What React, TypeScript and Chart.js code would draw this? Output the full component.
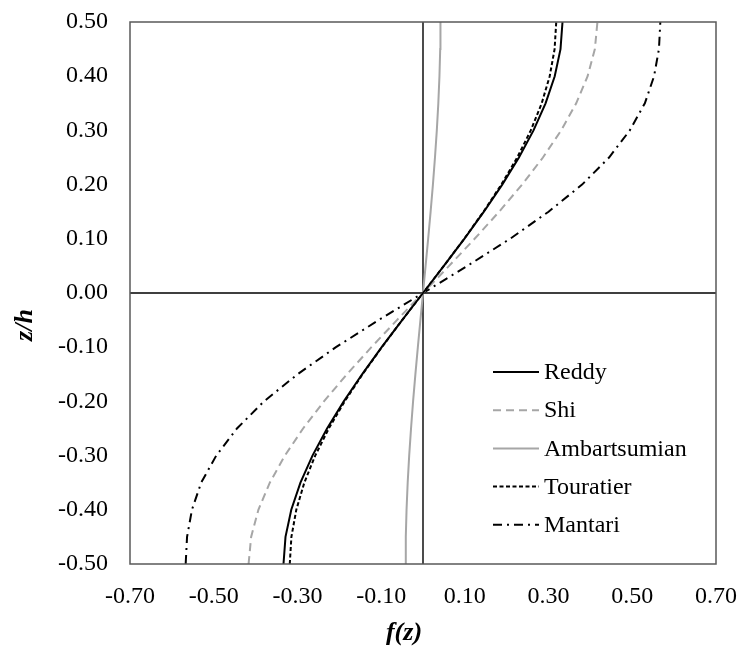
import React, { useEffect, useRef } from "react";
import { Chart, registerables } from "chart.js";

Chart.register(...registerables);

const zValues = [-0.5, -0.45, -0.4, -0.35, -0.3, -0.25, -0.2, -0.15, -0.1, -0.05, 0, 0.05, 0.1, 0.15, 0.2, 0.25, 0.3, 0.35, 0.4, 0.45, 0.5];
const reddy = [-0.3333, -0.3285, -0.3147, -0.2928, -0.264, -0.2292, -0.1893, -0.1455, -0.0987, -0.0498, 0, 0.0498, 0.0987, 0.1455, 0.1893, 0.2292, 0.264, 0.2928, 0.3147, 0.3285, 0.3333];
const shi = [-0.4167, -0.4106, -0.3933, -0.366, -0.33, -0.2865, -0.2367, -0.1819, -0.1233, -0.0623, 0, 0.0623, 0.1233, 0.1819, 0.2367, 0.2865, 0.33, 0.366, 0.3933, 0.4106, 0.4167];
const ambartsumian = [-0.0417, -0.0411, -0.0393, -0.0366, -0.033, -0.0286, -0.0237, -0.0182, -0.0123, -0.0062, 0, 0.0062, 0.0123, 0.0182, 0.0237, 0.0286, 0.033, 0.0366, 0.0393, 0.0411, 0.0417];
const touratier = [-0.3183, -0.3144, -0.3027, -0.2836, -0.2575, -0.2251, -0.1871, -0.1445, -0.0984, -0.0498, 0, 0.0498, 0.0984, 0.1445, 0.1871, 0.2251, 0.2575, 0.2836, 0.3027, 0.3144, 0.3183];
const mantari = [-0.567, -0.5637, -0.552, -0.53, -0.494, -0.4445, -0.38, -0.3, -0.208, -0.106, 0, 0.106, 0.208, 0.3, 0.38, 0.4445, 0.494, 0.53, 0.552, 0.5637, 0.567];

const seriesNames = ["Reddy", "Shi", "Ambartsumian", "Touratier", "Mantari"];
const xTicks = [-0.7, -0.5, -0.3, -0.1, 0.1, 0.3, 0.5, 0.7];
const yTicks = [-0.5, -0.4, -0.3, -0.2, -0.1, 0, 0.1, 0.2, 0.3, 0.4, 0.5];
const xTitle = "f(z)";
const yTitle = "z/h";

const FONT = "'Liberation Serif', 'Times New Roman', serif";

const toPoints = (vals: number[]) => vals.map((v, i) => ({ x: v, y: zValues[i] }));

const framePlugin = {
  id: "frame",
  beforeDatasetsDraw(chart: any) {
    const { ctx, chartArea, scales } = chart;
    const { left, right, top, bottom } = chartArea;
    const x0 = scales.x.getPixelForValue(0);
    const y0 = scales.y.getPixelForValue(0);
    ctx.save();
    ctx.strokeStyle = "#000";
    ctx.lineWidth = 1.4;
    ctx.setLineDash([]);
    ctx.beginPath();
    ctx.moveTo(x0, top);
    ctx.lineTo(x0, bottom);
    ctx.moveTo(left, y0);
    ctx.lineTo(right, y0);
    ctx.stroke();
    ctx.restore();
  },
  afterDatasetsDraw(chart: any) {
    const { ctx, chartArea } = chart;
    const { left, right, top, bottom } = chartArea;
    ctx.save();
    // plot frame
    ctx.strokeStyle = "#595959";
    ctx.lineWidth = 1.5;
    ctx.setLineDash([]);
    ctx.strokeRect(left, top, right - left, bottom - top);

    // legend
    const lx0 = left + 363;
    const lx1 = left + 409;
    const tx = left + 414;
    const ly0 = top + 350;
    const step = 38.2;
    ctx.font = `24px ${FONT}`;
    ctx.textBaseline = "middle";
    ctx.textAlign = "left";
    chart.data.datasets.forEach((ds: any, i: number) => {
      const yy = ly0 + i * step;
      ctx.strokeStyle = ds.borderColor;
      ctx.lineWidth = ds.borderWidth;
      ctx.setLineDash(ds.borderDash || []);
      ctx.beginPath();
      ctx.moveTo(lx0, yy);
      ctx.lineTo(lx1, yy);
      ctx.stroke();
      ctx.setLineDash([]);
      ctx.fillStyle = "#000";
      ctx.fillText(ds.label, tx, yy + 1);
    });

    // axis titles
    ctx.font = `bold italic 26px ${FONT}`;
    ctx.fillStyle = "#000";
    ctx.textAlign = "center";
    ctx.textBaseline = "middle";
    ctx.fillText(xTitle, (left + right) / 2 - 19, 633);
    ctx.save();
    ctx.translate(25, (top + bottom) / 2 + 32);
    ctx.rotate(-Math.PI / 2);
    ctx.fillText(yTitle, 0, 0);
    ctx.restore();
    ctx.restore();
  },
};

export default function App() {
  const canvasRef = useRef<HTMLCanvasElement | null>(null);

  useEffect(() => {
    if (!canvasRef.current) return;
    const styles = [
      { color: "#000000", width: 2, dash: [] as number[] },
      { color: "#a6a6a6", width: 2, dash: [8, 5] },
      { color: "#a6a6a6", width: 2, dash: [] as number[] },
      { color: "#000000", width: 2, dash: [4, 2.5] },
      { color: "#000000", width: 2, dash: [9, 5, 2, 5] },
    ];
    const series = [reddy, shi, ambartsumian, touratier, mantari];
    const chart = new Chart(canvasRef.current, {
      type: "scatter",
      data: {
        datasets: series.map((s, i) => ({
          label: seriesNames[i],
          data: toPoints(s),
          showLine: true,
          borderColor: styles[i].color,
          backgroundColor: styles[i].color,
          borderWidth: styles[i].width,
          borderDash: styles[i].dash,
          pointRadius: 0,
          pointHoverRadius: 0,
          tension: 0,
          fill: false,
        })),
      },
      options: {
        animation: false,
        responsive: false,
        devicePixelRatio: 1,
        layout: { padding: { left: 0, right: 23, top: 22, bottom: 0 } },
        plugins: {
          legend: { display: false },
          tooltip: { enabled: false },
        },
        scales: {
          x: {
            type: "linear",
            min: -0.7,
            max: 0.7,
            afterBuildTicks: (scale: any) => {
              scale.ticks = xTicks.map((v) => ({ value: v }));
            },
            afterFit: (scale: any) => {
              scale.height = 84;
              scale.paddingLeft = 0;
              scale.paddingRight = 0;
            },
            grid: { display: false, drawTicks: false },
            border: { display: false },
            ticks: {
              color: "#000",
              padding: 18,
              maxRotation: 0,
              autoSkip: false,
              font: { family: FONT, size: 24 },
              callback: (v: any) => Number(v).toFixed(2),
            },
          },
          y: {
            type: "linear",
            min: -0.5,
            max: 0.5,
            afterBuildTicks: (scale: any) => {
              scale.ticks = yTicks.map((v) => ({ value: v }));
            },
            afterFit: (scale: any) => {
              scale.width = 130;
              scale.paddingTop = 0;
              scale.paddingBottom = 0;
            },
            grid: { display: false, drawTicks: false },
            border: { display: false },
            ticks: {
              color: "#000",
              padding: 22,
              autoSkip: false,
              font: { family: FONT, size: 24 },
              callback: (v: any) => Number(v).toFixed(2),
            },
          },
        },
      },
      plugins: [framePlugin],
    });
    return () => chart.destroy();
  }, []);

  return (
    <div style={{ position: "absolute", left: 0, top: 0, width: 739, height: 648, background: "#fff" }}>
      <canvas ref={canvasRef} width={739} height={648} style={{ width: 739, height: 648, display: "block" }} />
    </div>
  );
}
